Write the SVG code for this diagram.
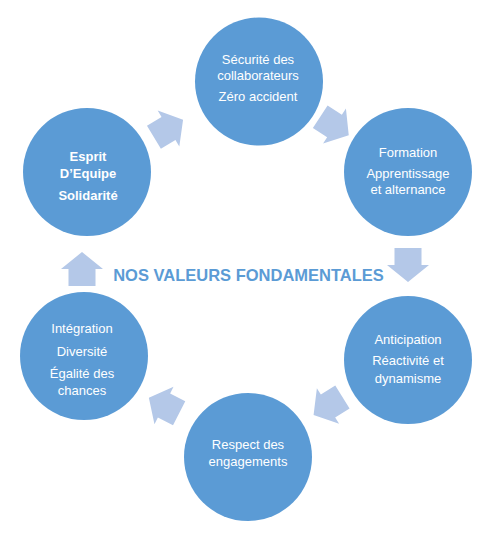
<svg xmlns="http://www.w3.org/2000/svg" width="504" height="539" viewBox="0 0 504 539">
<defs>
<style>
.node{fill:#5b9bd5}
.t{font-family:"Liberation Sans",Arial,sans-serif;font-size:13px;fill:#ffffff;text-anchor:middle}
.b{font-weight:bold}
.arr{fill:#b4c8e8}
.title{font-family:"Liberation Sans",Arial,sans-serif;font-size:16.5px;font-weight:bold;fill:#5b9bd5;text-anchor:middle}
</style>
<path id="ar" d="M-17,-13.5 H0 V-21 L17,0 L0,21 V13.5 H-17 Z"/>
</defs>
<rect width="504" height="539" fill="#ffffff"/>
<g id="connectors" class="arr">
<use href="#ar" transform="translate(168.5,128.5) rotate(-31)"/>
<use href="#ar" transform="translate(334.5,126) rotate(33)"/>
<use href="#ar" transform="translate(408,265) rotate(90)"/>
<use href="#ar" transform="translate(328,406) rotate(148)"/>
<use href="#ar" transform="translate(164,405.5) rotate(207)"/>
<use href="#ar" transform="translate(82,269) rotate(270)"/>
</g>
<g id="securite">
<circle class="node" cx="259" cy="81.5" r="64"/>
<text class="t" x="258" y="64">Sécurité des</text>
<text class="t" x="258" y="80">collaborateurs</text>
<text class="t" x="258" y="101">Zéro accident</text>
</g>
<g id="formation">
<circle class="node" cx="408" cy="172" r="64"/>
<text class="t" x="408" y="157">Formation</text>
<text class="t" x="408" y="178">Apprentissage</text>
<text class="t" x="408" y="194">et alternance</text>
</g>
<g id="anticipation">
<circle class="node" cx="408" cy="360" r="64"/>
<text class="t" x="408" y="344">Anticipation</text>
<text class="t" x="408" y="365">Réactivité et</text>
<text class="t" x="408" y="383">dynamisme</text>
</g>
<g id="respect">
<circle class="node" cx="248" cy="457" r="64"/>
<text class="t" x="248" y="449">Respect des</text>
<text class="t" x="248" y="466">engagements</text>
</g>
<g id="integration">
<circle class="node" cx="84" cy="356" r="64"/>
<text class="t" x="82" y="333">Intégration</text>
<text class="t" x="82" y="356">Diversité</text>
<text class="t" x="82" y="378">Égalité des</text>
<text class="t" x="82" y="395">chances</text>
</g>
<g id="esprit">
<circle class="node" cx="87" cy="172" r="64"/>
<text class="t b" x="88" y="161">Esprit</text>
<text class="t b" x="88" y="178">D’Equipe</text>
<text class="t b" x="88" y="200">Solidarité</text>
</g>
<g id="title">
<text class="title" x="248.5" y="281">NOS VALEURS FONDAMENTALES</text>
</g>
</svg>
